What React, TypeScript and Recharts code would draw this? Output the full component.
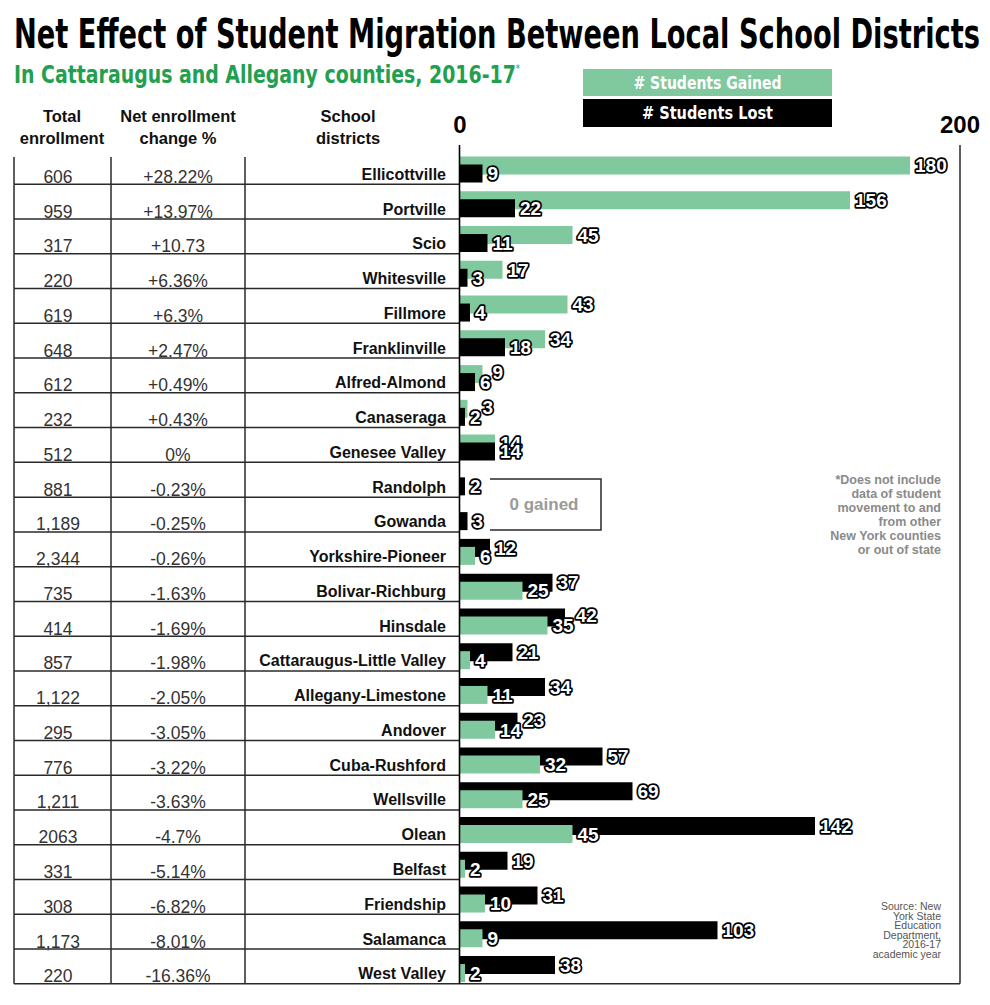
import React from 'react';
import { BarChart, Bar, XAxis, YAxis, Cell, LabelList } from 'recharts';

const districts = [
  'Ellicottville', 'Portville', 'Scio', 'Whitesville', 'Fillmore', 'Franklinville',
  'Alfred-Almond', 'Canaseraga', 'Genesee Valley', 'Randolph', 'Gowanda', 'Yorkshire-Pioneer',
  'Bolivar-Richburg', 'Hinsdale', 'Cattaraugus-Little Valley', 'Allegany-Limestone', 'Andover',
  'Cuba-Rushford', 'Wellsville', 'Olean', 'Belfast', 'Friendship', 'Salamanca', 'West Valley',
];
const enrollment = [
  '606', '959', '317', '220', '619', '648', '612', '232', '512', '881', '1,189', '2,344',
  '735', '414', '857', '1,122', '295', '776', '1,211', '2063', '331', '308', '1,173', '220',
];
const changePct = [
  '+28.22%', '+13.97%', '+10.73', '+6.36%', '+6.3%', '+2.47%', '+0.49%', '+0.43%', '0%',
  '-0.23%', '-0.25%', '-0.26%', '-1.63%', '-1.69%', '-1.98%', '-2.05%', '-3.05%', '-3.22%',
  '-3.63%', '-4.7%', '-5.14%', '-6.82%', '-8.01%', '-16.36%',
];
const gained = [180, 156, 45, 17, 43, 34, 9, 3, 14, 0, 0, 6, 25, 35, 4, 11, 14, 32, 25, 45, 2, 10, 9, 2];
const lost = [9, 22, 11, 3, 4, 18, 6, 2, 14, 2, 3, 12, 37, 42, 21, 34, 23, 57, 69, 142, 19, 31, 103, 38];
const xTicks = [0, 200];

const GREEN = '#80c99e';
const BLACK = '#000';
const LINE = '#2a2a2a';
const SANS = "'Liberation Sans', Arial, sans-serif";
const NARROW = "'Liberation Sans Narrow', 'DejaVu Sans Condensed', 'Liberation Sans', sans-serif";
const LABEL_SIZE = 19;
const DIGIT_W = LABEL_SIZE * 0.556;

// table rows sit 3px above the bar bands
const TABLE_TOP = 149.5;
const TABLE_BOTTOM = 983.8;
const SHIFT = 3;
const ROW_H = (TABLE_BOTTOM - TABLE_TOP) / districts.length;

// the larger bar sits on top (behind); smaller one lower, in front
const data = districts.map((name, i) => {
  const lostOnTop = lost[i] > gained[i] && gained[i] > 0;
  return {
    name,
    upper: lostOnTop ? lost[i] : gained[i],
    lower: lostOnTop ? gained[i] : lost[i],
    upperColor: lostOnTop ? BLACK : GREEN,
    lowerColor: lostOnTop ? GREEN : BLACK,
  };
});

const labelText = (x: number, y: number, value: any) => (
  <text
    x={x}
    y={y}
    dy="0.36em"
    fontFamily={SANS}
    fontWeight="bold"
    fontSize={LABEL_SIZE}
    fill="#fff"
    stroke="#000"
    strokeWidth={3.5}
    strokeLinejoin="round"
    paintOrder="stroke"
  >
    {value}
  </text>
);

const LowerLabel = (props: any) => {
  const { x, y, width, height, value } = props;
  if (!value) return null;
  return labelText(Number(x) + Number(width) + 5, Number(y) + Number(height) / 2, value);
};

// upper label is pushed right when it would run into the lower label
const UpperLabel = (props: any) => {
  const { x, y, width, height, value } = props;
  if (!value) return null;
  const row = Math.floor((Number(y) - TABLE_TOP - SHIFT) / ROW_H);
  const end = Number(x) + Number(width);
  let lx = end + 5;
  const low = data[row] ? data[row].lower : 0;
  if (low > 0 && low !== value) {
    const lowEnd = Number(x) + (Number(width) * low) / value;
    const lowLabelEnd = lowEnd + 5 + String(low).length * DIGIT_W;
    lx = Math.max(lx, lowLabelEnd + 2);
  }
  return labelText(lx, Number(y) + Number(height) / 2 - (lx > end + 5 ? 2 : 0), value);
};

const RowTick = (props: any) => {
  const { y, payload } = props;
  const i = districts.indexOf(payload.value);
  const mid = y - SHIFT;
  const bottom = mid + ROW_H / 2;
  const top = i === 0 ? 157 : mid - ROW_H / 2;
  const last = i === districts.length - 1;
  return (
    <g>
      {[14, 111, 245].map((lx) => (
        <line key={lx} x1={lx} x2={lx} y1={top} y2={bottom} stroke={LINE} strokeWidth={1.5} />
      ))}
      <line x1={14} x2={last ? 960 : 459} y1={bottom} y2={bottom} stroke={LINE} strokeWidth={1.5} />
      <text x={58} y={bottom - 1.5} textAnchor="middle" fontFamily={SANS} fontSize={17.5} fill="#333">
        {enrollment[i]}
      </text>
      <text x={178} y={bottom - 1.5} textAnchor="middle" fontFamily={SANS} fontSize={17.5} fill="#333">
        {changePct[i]}
      </text>
      <text x={446} y={bottom - 4.5} textAnchor="end" fontFamily={SANS} fontWeight="bold" fontSize={16} fill="#111">
        {payload.value}
      </text>
    </g>
  );
};

const TopTick = (props: any) => {
  const { x, payload } = props;
  return (
    <text x={x} y={133} textAnchor="middle" fontFamily={SANS} fontWeight="bold" fontSize={24} fill="#000">
      {payload.value}
    </text>
  );
};

export default function App() {
  return (
    <div style={{ position: 'absolute', left: 0, top: 0, width: 990, height: 1005, background: '#fff' }}>
      <BarChart
        width={990}
        height={1005}
        data={data}
        layout="vertical"
        margin={{ top: TABLE_TOP + SHIFT - 30, right: 30, bottom: 1005 - TABLE_BOTTOM - SHIFT, left: 0 }}
        barSize={18}
        barGap={-10}
      >
        <XAxis
          type="number"
          domain={[0, 200]}
          ticks={xTicks}
          orientation="top"
          height={30}
          axisLine={false}
          tickLine={false}
          tick={<TopTick />}
        />
        <YAxis
          type="category"
          dataKey="name"
          width={460}
          interval={0}
          axisLine={false}
          tickLine={false}
          tick={<RowTick />}
        />
        <Bar dataKey="upper" isAnimationActive={false}>
          {data.map((d, i) => (
            <Cell key={`u-${i}`} fill={d.upperColor} />
          ))}
          <LabelList dataKey="upper" content={<UpperLabel />} />
        </Bar>
        <Bar dataKey="lower" isAnimationActive={false}>
          {data.map((d, i) => (
            <Cell key={`l-${i}`} fill={d.lowerColor} />
          ))}
          <LabelList dataKey="lower" content={<LowerLabel />} />
        </Bar>
      </BarChart>

      <svg width={990} height={1005} style={{ position: 'absolute', left: 0, top: 0, pointerEvents: 'none' }}>
        <text x={14} y={48} fontFamily={NARROW} fontWeight="bold" fontSize={41} fill="#000"
          textLength={966} lengthAdjust="spacingAndGlyphs">
          Net Effect of Student Migration Between Local School Districts
        </text>
        <text x={14} y={83} fontFamily={NARROW} fontWeight="bold" fontSize={25} fill="#23a04f"
          textLength={506} lengthAdjust="spacingAndGlyphs">
          In Cattaraugus and Allegany counties, 2016-17
          <tspan fontSize={11} fontWeight="normal" dy={-11}>*</tspan>
        </text>

        {/* legend */}
        <rect x={583} y={69} width={249} height={27} fill={GREEN} />
        <text x={707.5} y={88.5} textAnchor="middle" fontFamily={NARROW} fontWeight="bold" fontSize={18} fill="#fff"
          textLength={148} lengthAdjust="spacingAndGlyphs">
          # Students Gained
        </text>
        <rect x={583} y={99} width={249} height={28} fill={BLACK} />
        <text x={707.5} y={119} textAnchor="middle" fontFamily={NARROW} fontWeight="bold" fontSize={18} fill="#fff"
          textLength={131} lengthAdjust="spacingAndGlyphs">
          # Students Lost
        </text>

        {/* column headers */}
        <g fontFamily={SANS} fontWeight="bold" fontSize={16.5} fill="#111" textAnchor="middle">
          <text x={62} y={122}>Total</text>
          <text x={62} y={144}>enrollment</text>
          <text x={178} y={122}>Net enrollment</text>
          <text x={178} y={144}>change %</text>
          <text x={348} y={122}>School</text>
          <text x={348} y={144}>districts</text>
        </g>

        {/* frame */}
        <line x1={459.5} x2={459.5} y1={145} y2={TABLE_BOTTOM} stroke="#000" strokeWidth={1.6} />
        <line x1={960} x2={960} y1={145} y2={TABLE_BOTTOM} stroke={LINE} strokeWidth={1.5} />

        {/* 0 gained note */}
        <polyline points="490,479 601,479 601,530 490,530" fill="none" stroke={LINE} strokeWidth={1.5} />
        <text x={544} y={510} textAnchor="middle" fontFamily={SANS} fontWeight="bold" fontSize={17} fill="#9a9a9a">
          0 gained
        </text>

        {/* footnote */}
        <g fontFamily={SANS} fontWeight="bold" fontSize={12.5} fill="#8a8a8a" textAnchor="end">
          <text x={941} y={484}>*Does not include</text>
          <text x={941} y={498}>data of student</text>
          <text x={941} y={512}>movement to and</text>
          <text x={941} y={526}>from other</text>
          <text x={941} y={540}>New York counties</text>
          <text x={941} y={554}>or out of state</text>
        </g>

        {/* source */}
        <g fontFamily={SANS} fontSize={10.5} fill="#555" textAnchor="end">
          <text x={941} y={910}>Source: New</text>
          <text x={941} y={919.5}>York State</text>
          <text x={941} y={929}>Education</text>
          <text x={941} y={938.5}>Department,</text>
          <text x={941} y={948}>2016-17</text>
          <text x={941} y={957.5}>academic year</text>
        </g>
      </svg>
    </div>
  );
}
